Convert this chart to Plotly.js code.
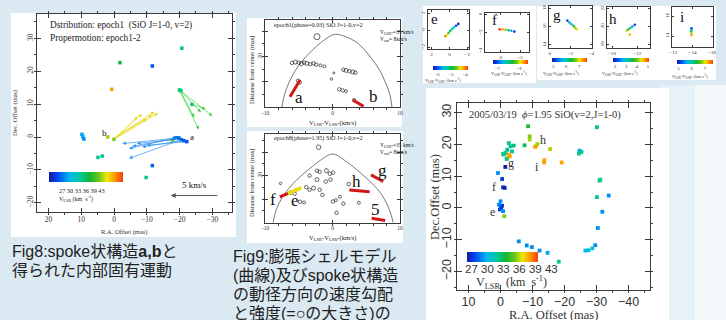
<!DOCTYPE html>
<html><head><meta charset="utf-8">
<script src="https://cdn.plot.ly/plotly-3.0.1.min.js"></script>
<style>html,body{margin:0;padding:0;background:#dbe9f3}</style>
</head><body><div id="chart" style="width:726px;height:320px"></div>
<script>
// ---------------- DATA ----------------
// Fig8 maser spots (R.A. offset, Dec offset, VLSR)
const fig8X = [-20.7, -1.8, -11.7, 0.7, -20.0, -20.4, -23.8, 9.5, 9.8, 9.2, 1.9, 0.0, -17.8, -18.4, -19.0, -19.8, -20.5, -21.2, -22.2, 4.9, 3.6, -11.7, -9.8];
const fig8Y = [27.0, 22.6, 21.6, 14.5, 14.3, 14.1, 9.9, 0.1, 0.8, -0.6, 0.0, -0.7, -0.9, -0.4, -0.2, -0.3, -0.8, -1.1, -1.4, -6.2, -5.8, -8.7, -12.3];
const fig8V = [34, 35.5, 29, 41, 34.5, 34.5, 34, 31, 31, 30.5, 38.5, 38, 37, 29.5, 30, 29.5, 29.5, 29, 29, 34, 34, 29.5, 34];
// Fig8 proper-motion arrows (tail -> head) per spoke group
const armGreenTX = [-20.0, -20.3, -19.8, -23.5, -20.1];
const armGreenTY = [14.3, 14.0, 14.5, 10.0, 14.2];
const armGreenHX = [-30.0, -26.5, -25.9, -28.0, -24.5];
const armGreenHY = [6.4, 7.5, 2.3, 8.5, 6.0];
const armYellowTX = [0.0, 0.3, -0.5, 0.2, -0.3, 0.1];
const armYellowTY = [-0.7, -0.5, 0.0, -0.9, -0.3, -0.6];
const armYellowHX = [-13.4, -12.4, -11.6, -7.2, -8.5, -10.0];
const armYellowHY = [7.2, 7.7, 6.8, 6.2, 7.0, 5.5];
const armBlueTX = [-18.4, -19.0, -19.8, -20.5, -21.2, -22.2, -19.5];
const armBlueTY = [-0.4, -0.2, -0.3, -0.8, -1.1, -1.4, -0.6];
const armBlueHX = [-2.6, -4.6, -5.6, -4.6, -8.6, -10.0, -7.0];
const armBlueHY = [-2.0, -3.5, -2.8, -6.5, -3.0, -2.5, -2.0];
const scaleArrow = {tailX: -32.0, headX: -17.3, y: -17.8, label: '5 km/s'};
const fig8Ticks = [27, 30, 33, 36, 39, 43];

// Fig9 expanding-shell model curves (velocity, distance)
const shell1V = [-7.5, -7.1, -6.4, -5.5, -4.4, -3.0, -1.6, 0.3, 2.0, 3.5, 4.8, 6.0, 7.0, 7.8, 8.5, 8.8];
const shell1R = [0, 5, 10, 14.5, 18.5, 22.5, 25.8, 28.8, 27.8, 25.8, 22.5, 18.5, 14.5, 10, 5, 0];
const shell8V = [-8.8, -8.4, -7.6, -6.5, -5.2, -3.6, -1.8, 0, 1.8, 3.6, 5.2, 6.6, 7.7, 8.5, 9.0];
const shell8R = [0, 5, 10, 14.5, 18.5, 22.5, 26.5, 29.2, 26.5, 22.5, 18.5, 14.5, 10, 5, 0];
// Fig9 spots (open circles)
const ep1CircV = [-2.3, -6.0, -5.5, -5.0, -4.6, -4.2, -3.8, -3.3, -2.8, -2.4, -1.8, -1.2, 1.6, 2.0, 2.5, 3.0, 3.4, -0.15, 1.0, 1.5, 2.0, -5.1, -4.8, 3.2, 0.2];
const ep1CircR = [27.9, 17.5, 17.8, 17.6, 17.2, 17.6, 17.3, 17.0, 17.3, 16.8, 16.5, 16.1, 14.8, 14.5, 14.2, 13.9, 13.6, 11.1, 7.0, 6.6, 6.3, 10.4, 9.7, 2.8, 13.5];
const ep1CircS = [6, 3.5, 4, 3.5, 4, 3.5, 4, 3.5, 3.5, 3.5, 3, 3, 3.5, 4, 3.5, 4, 3.5, 2.5, 3.5, 3.5, 3, 3.5, 3, 3, 2];
const ep8CircV = [-2.05, -2.3, -1.9, -0.9, 0.1, -0.4, -3.4, -2.3, -1.0, -0.3, -3.9, -2.8, -1.9, -3.4, -1.5, -4.8, -4.2, 0.05, 0.5, 1.6, 0.6, 3.9, 2.4, -7.7, -5.6, -6.2, 1.1];
const ep8CircR = [32.1, 22.1, 21.6, 22.1, 21.3, 20.8, 20.0, 18.3, 17.5, 18.3, 15.1, 14.7, 14.0, 14.0, 11.8, 8.9, 8.6, 9.0, 9.6, 8.1, 4.2, 8.5, 16.4, 16.7, 12.3, 12.8, 11.0];
const ep8CircS = [4.5, 3.5, 3.5, 4, 3.5, 3.5, 3.5, 4, 3.5, 3.5, 3.5, 4, 3.5, 3.5, 3.5, 3.5, 3, 3.5, 3, 3.5, 3.5, 3, 3.5, 2.5, 3.5, 3.5, 3];
// Fig9 spoke gradients (start/end)
const ep1SpokeNames = ['a', 'b'];
const ep1SpokeV = [[-6.3, -4.8], [3.0, 4.6]];
const ep1SpokeR = [[4.1, 10.7], [2.8, 0.3]];
const ep8SpokeNames = ['f', 'h', 'g', '5'];
const ep8SpokeV = [[-7.8, -4.8], [2.5, 5.5], [5.7, 7.5], [5.8, 7.8]];
const ep8SpokeR = [[11.0, 14.6], [13.9, 13.2], [20.3, 17.5], [1.9, 0.9]];
const ep8YellowV = [-6.6, -4.6];
const ep8YellowR = [12.4, 14.9];

// small spoke panels e-i (x, y, V - V*)
const eX = [0.45, 0.3, 0.1, -0.1, -0.3, -0.5, -0.75, -1.0];
const eY = [-0.7, -0.55, -0.3, -0.05, 0.15, 0.35, 0.55, 0.76];
const eV = [-4.0, -4.3, -4.8, -5.0, -5.3, -5.6, -6.0, -6.2];
const fX = [0.1, -0.2, -0.5, -0.8, -1.1, -1.4];
const fY = [-1.6, -1.6, -1.65, -1.7, -1.75, -1.85];
const fV = [-5.6, -5.8, -6.1, -6.4, -6.8, -7.1];
const gX = [-1.7, -1.9, -2.1, -2.3, -2.45, -2.6];
const gY = [16.65, 16.45, 16.25, 16.05, 15.85, 15.7];
const gV = [5.2, 5.5, 5.8, 6.3, 6.8, 7.1];
const hX = [-11.17, -11.3, -11.45, -11.6, -11.8, -11.4];
const hY = [19.55, 19.7, 19.85, 20.0, 20.2, 19.1];
const hV = [4.2, 3.8, 3.2, 2.6, 2.1, 4.6];
const iX = [-13.9, -13.9, -13.85, -13.9, -13.9];
const iY = [14.77, 14.6, 14.45, 14.3, 14.1];
const iV = [5.2, 5.7, 6.3, 6.9, 7.3];

// big panel 2005/03/19 spots
const bigX = [-8.6, -30.1, -9.1, -9.1, -7.5, -11.1, -11.5, -10.8, -15.5, -2.6, -3.1, -4.1, -2.1, -1.5, -1.0, -2.6, -2.9, -2.1, -1.9, -3.6, -0.8, -1.5, -13.7, -13.6, -19.1, -24.7, -25.3, -24.5, 0.8, -0.5, -0.8, -1.3, -30.9, -31.2, -33.8, -30.1, -31.8, -30.4, 0.0, 0.5, -0.5, -0.2, 0.2, -0.8, -1.2, -5.7, -8.2, -9.8, -12.2, -14.7, -18.2, -26.5, -27.5, -28.7, -29.6];
const bigY = [25.7, 25.4, 22.5, 21.5, 19.7, 19.5, 20.1, 19.2, 18.5, 20.4, 19.4, 19.6, 18.3, 17.3, 16.8, 16.8, 16.2, 15.7, 15.4, 17.8, 17.0, 12.9, 15.0, 14.3, 14.3, 18.0, 17.6, 17.1, 11.0, 9.1, 6.5, 6.3, 8.6, 8.9, 3.9, 3.4, -1.2, -6.3, 2.1, 1.0, 0.7, 0.0, -0.5, -1.0, -2.6, -10.5, -11.8, -12.3, -13.4, -14.1, -16.9, -13.4, -13.3, -12.7, -11.7];
const bigV = [36, 34, 38, 38.5, 35, 40, 38.5, 41, 38.5, 34, 34, 34.5, 34, 34, 34, 41, 41, 40.5, 34, 34, 34, 27, 41, 41, 41, 31, 34, 34, 30.5, 28, 27.5, 27.5, 34, 34, 30.5, 34, 30.5, 30.5, 30.5, 30.5, 28.5, 28, 28.5, 30.5, 38, 30.5, 30.5, 30.5, 30.5, 31, 34, 32, 32, 32, 30.5];
const bigLabels = ['h', 'g', 'i', 'f', 'e'];
const bigLabelX = [-13.4, -3.4, -11.5, 1.9, 2.6];
const bigLabelY = [21.3, 14.1, 12.8, 6.6, -1.3];
const bigTicksX = [10, 0, -10, -20, -30, -40];
const bigTicksY = [30, 20, 10, 0, -10, -20];

// ---------------- STYLE / LAYOUT ----------------
const W = 726, H = 320;
const px = x => x / W, py = y => 1 - y / H;
const JET = [[0, '#1a1a9a'], [0.1, '#0040f0'], [0.28, '#00b8f0'], [0.42, '#00c8a0'], [0.55, '#10b830'], [0.68, '#70c818'], [0.78, '#f0e800'], [0.9, '#ff9000'], [1, '#f83818']];
const SERIF = 'Liberation Serif, DejaVu Serif, serif';
const SANS = 'Liberation Sans, Arial, sans-serif';
const JP = 'Liberation Sans, Noto Sans CJK JP, sans-serif';

const layout = {
  width: W, height: H, margin: {l: 0, r: 0, t: 0, b: 0, autoexpand: false},
  paper_bgcolor: '#dbe9f3', plot_bgcolor: 'rgba(0,0,0,0)', showlegend: false,
  shapes: [], annotations: []
};
function rectPx(x0, y0, x1, y1, color) {
  layout.shapes.push({type: 'rect', xref: 'paper', yref: 'paper', x0: px(x0), x1: px(x1), y0: py(y1), y1: py(y0), fillcolor: color, line: {width: 0}, layer: 'below'});
}
rectPx(659, 85, 695, 320, '#e7f1f8');
rectPx(695, 85, 726, 320, '#f4f8fb');
rectPx(11, 13, 236, 237, '#ffffff');
rectPx(247, 18, 402, 127, '#ffffff');
rectPx(247, 131, 403, 243, '#ffffff');
rectPx(423, 6, 536, 83, '#ffffff');
rectPx(537, 6, 716, 80, '#ffffff');
rectPx(426, 88, 669, 320, '#ffffff');

function axPair(n, x0, x1, y0, y1, xr, yr, o) {
  const s = n === 1 ? '' : String(n);
  const base = {showline: true, mirror: 'ticks', linecolor: '#3a3a3a', linewidth: 1, ticks: 'inside', ticklen: o.tl || 3, tickcolor: '#3a3a3a', showgrid: false, zeroline: false, tickfont: {family: o.ff || SERIF, size: o.fs || 6, color: '#333'}, fixedrange: true};
  layout['xaxis' + s] = Object.assign({}, base, {domain: [px(x0), px(x1)], range: xr, anchor: 'y' + s, tickvals: o.xt, ticktext: o.xtt, tickangle: 0});
  layout['yaxis' + s] = Object.assign({}, base, {domain: [py(y1), py(y0)], range: yr, anchor: 'x' + s, tickvals: o.yt, ticktext: o.ytt, tickangle: -90});
  if (o.minor) { layout['xaxis' + s].minor = {dtick: o.minor[0], ticklen: 2, tickcolor: '#3a3a3a'}; layout['yaxis' + s].minor = {dtick: o.minor[1], ticklen: 2, tickcolor: '#3a3a3a'}; }
}
function note(text, x, y, o) {
  layout.annotations.push(Object.assign({text: text, x: px(x), y: py(y), xref: 'paper', yref: 'paper', showarrow: false, xanchor: 'left', yanchor: 'middle', font: {family: SERIF, size: 8, color: '#222'}}, o || {}));
}
function dnote(text, x, y, ax, o) {
  layout.annotations.push(Object.assign({text: text, x: x, y: y, xref: 'x' + ax, yref: 'y' + ax, showarrow: false, font: {family: SERIF, size: 14, color: '#111'}}, o || {}));
}
function cbar(x0, x1, y0, y1, tickvals, fs, ff, showLabels) {
  return {orientation: 'h', x: px(x0), xanchor: 'left', y: py(y0), yanchor: 'top', len: x1 - x0, lenmode: 'pixels', thickness: y1 - y0, thicknessmode: 'pixels', outlinewidth: 0, ticks: '', tickvals: tickvals, showticklabels: showLabels !== false, tickangle: 0, tickfont: {family: ff || SERIF, size: fs, color: '#222'}, xpad: 0, ypad: 0, ticklabelstandoff: 0};
}

const traces = [];
// ---- Fig8 ----
axPair(1, 37, 232, 14, 212, [23.5, -36], [-22.8, 37.4], {xt: [20, 10, 0, -10, -20, -30], yt: [30, 20, 10, 0, -10, -20], fs: 7.5, tl: 4, minor: [5, 5]});
traces.push({type: 'scatter', mode: 'markers', x: fig8X, y: fig8Y, xaxis: 'x', yaxis: 'y',
  marker: {size: 3.5, symbol: 'square', color: fig8V, colorscale: JET, cmin: 27, cmax: 43, showscale: true, colorbar: cbar(49, 123, 172, 182, fig8Ticks, 6, SERIF, false)}});
function arrows(tx, ty, hx, hy, color) {
  for (let i = 0; i < tx.length; i++) layout.annotations.push({x: hx[i], y: hy[i], ax: tx[i], ay: ty[i], xref: 'x', yref: 'y', axref: 'x', ayref: 'y', text: '', showarrow: true, arrowhead: 2, arrowsize: 1, arrowwidth: 0.7, arrowcolor: color});
}
arrows(armGreenTX, armGreenTY, armGreenHX, armGreenHY, '#40d040');
arrows(armYellowTX, armYellowTY, armYellowHX, armYellowHY, '#e8d820');
arrows(armBlueTX, armBlueTY, armBlueHX, armBlueHY, '#3090f0');
layout.annotations.push({x: scaleArrow.headX, y: scaleArrow.y, ax: scaleArrow.tailX, ay: scaleArrow.y, xref: 'x', yref: 'y', axref: 'x', ayref: 'y', text: '', showarrow: true, arrowhead: 2, arrowsize: 1, arrowwidth: 1, arrowcolor: '#555'});
dnote(scaleArrow.label, -24.6, -14.6, '', {font: {family: SERIF, size: 9, color: '#111'}});
dnote('a', -23.8, 0.1, '', {font: {family: SERIF, size: 9, color: '#111'}});
dnote('b', 3.0, 1.2, '', {font: {family: SERIF, size: 9, color: '#111'}});
note('Dstribution: epoch1  (SiO J=1-0, v=2)', 48, 25, {font: {family: SERIF, size: 9.3, color: '#222'}});
note('Propermotion: epoch1-2', 48, 38, {font: {family: SERIF, size: 9.3, color: '#222'}});
note(fig8Ticks.join(' '), 57, 190, {font: {family: SERIF, size: 6.3, color: '#222'}});
note('V<sub>LSR</sub> (km  s<sup>-1</sup>)', 57, 198, {font: {family: SERIF, size: 6, color: '#222'}});
note('R.A. Offset (mas)', 124, 232, {xanchor: 'center', font: {family: SERIF, size: 6.5, color: '#333'}});
note('Dec. Offset (mas)', 15, 113, {xanchor: 'center', textangle: -90, font: {family: SERIF, size: 6.5, color: '#333'}});
note('Fig8:spoke状構造<b>a,b</b>と', 10, 251, {font: {family: JP, size: 16, color: '#222'}});
note('得られた内部固有運動', 10, 270, {font: {family: JP, size: 16, color: '#222'}});

// ---- Fig9 top ----
axPair(2, 265, 400, 20, 107, [-10, 10], [0, 34.5], {xt: [-10, 0, 10], yt: [10, 20, 30], ytt: ['', '20', ''], fs: 5.5, tl: 3, minor: [2, 5]});
traces.push({type: 'scatter', mode: 'lines', x: shell1V, y: shell1R, xaxis: 'x2', yaxis: 'y2', line: {color: '#555', width: 0.8, shape: 'spline'}});
traces.push({type: 'scatter', mode: 'markers', x: ep1CircV, y: ep1CircR, xaxis: 'x2', yaxis: 'y2', marker: {symbol: 'circle-open', size: ep1CircS, color: '#111', line: {width: 0.9}}});
ep1SpokeV.forEach((v, i) => traces.push({type: 'scatter', mode: 'lines', x: v, y: ep1SpokeR[i], xaxis: 'x2', yaxis: 'y2', line: {color: '#d01818', width: 3}}));
dnote('a', -5.0, 3.6, '2', {font: {family: SERIF, size: 17, color: '#111'}});
dnote('b', 6.0, 4.3, '2', {font: {family: SERIF, size: 17, color: '#111'}});
note('epoch1(phase=0.93) SiO J=1-0,v=2', 272, 25, {font: {family: SERIF, size: 6.2, color: '#222'}});
note('V<sub>LSR*</sub>=35 km/s<br>V<sub>out</sub>= 8km/s', 378, 36, {font: {family: SERIF, size: 5.5, color: '#222'}, align: 'left'});
note('V<sub>LSR</sub>-V<sub>LSR*</sub>(km/s)', 333, 123, {xanchor: 'center', font: {family: SERIF, size: 6.5, color: '#222'}});
note('Distanse from center (mas)', 252, 70, {xanchor: 'center', textangle: -90, font: {family: SERIF, size: 6.3, color: '#222'}});

// ---- Fig9 bottom ----
axPair(3, 265, 400, 134, 222.7, [-10, 10], [0, 37.7], {xt: [-10, 0, 10], yt: [10, 20, 30], ytt: ['', '20', ''], fs: 5.5, tl: 3, minor: [2, 5]});
traces.push({type: 'scatter', mode: 'lines', x: shell8V, y: shell8R, xaxis: 'x3', yaxis: 'y3', line: {color: '#555', width: 0.8, shape: 'spline'}});
traces.push({type: 'scatter', mode: 'markers', x: ep8CircV, y: ep8CircR, xaxis: 'x3', yaxis: 'y3', marker: {symbol: 'circle-open', size: ep8CircS, color: '#111', line: {width: 0.9}}});
ep8SpokeV.forEach((v, i) => traces.push({type: 'scatter', mode: 'lines', x: v, y: ep8SpokeR[i], xaxis: 'x3', yaxis: 'y3', line: {color: '#d01818', width: 3}}));
traces.push({type: 'scatter', mode: 'lines', x: ep8YellowV, y: ep8YellowR, xaxis: 'x3', yaxis: 'y3', line: {color: '#e8e010', width: 3.5}});
dnote('f', -8.8, 10.0, '3', {font: {family: SERIF, size: 17, color: '#111'}});
dnote('e', -5.6, 9.5, '3', {font: {family: SERIF, size: 17, color: '#111'}});
dnote('g', 7.4, 22.3, '3', {font: {family: SERIF, size: 17, color: '#111'}});
dnote('h', 3.6, 17.5, '3', {font: {family: SERIF, size: 17, color: '#111'}});
dnote('5', 6.3, 5.4, '3', {font: {family: SERIF, size: 17, color: '#111'}});
note('epoch8(phase=1.95) SiO J=1-0,v=2', 272, 138, {font: {family: SERIF, size: 6.2, color: '#222'}});
note('V<sub>LSR*</sub>=35 km/s<br>V<sub>out</sub>= 8km/s', 378, 149, {font: {family: SERIF, size: 5.5, color: '#222'}, align: 'left'});
note('V<sub>LSR</sub>-V<sub>LSR*</sub>(km/s)', 333, 238, {xanchor: 'center', font: {family: SERIF, size: 6.5, color: '#222'}});
note('Distanse from center (mas)', 252, 183, {xanchor: 'center', textangle: -90, font: {family: SERIF, size: 6.3, color: '#222'}});
['Fig9:膨張シェルモデル', '(曲線)及びspoke状構造', 'の動径方向の速度勾配', 'と強度(=○の大きさ)の'].forEach((t, i) => note(t, 231, 256 + i * 19, {font: {family: JP, size: 16, color: '#222'}}));

// ---- small panels e-i ----
const small = [
  {n: 4, box: [428, 469, 10, 49], xr: [2.4, -2.2], yr: [-2.2, 2.4], xt: [2, 0, -2], yt: [-2, 0, 2], X: eX, Y: eY, V: eV, cmin: -6.3, cmax: -3.8, cb: [433, 468, 66, 70], cbt: [-6, -5, -4], lab: 'e', lx: 1.7, ly: 1.35, tx: 423, ty: 80},
  {n: 5, box: [485, 529, 13, 52], xr: [1.6, -2.9], yr: [-4.1, 0.2], xt: [0, -2], yt: [-4, -2, 0], X: fX, Y: fY, V: fV, cmin: -7.2, cmax: -5.6, cb: [493, 528, 60, 64], cbt: [-7, -6], lab: 'f', lx: 0.6, ly: -0.6, tx: 489, ty: 74},
  {n: 6, box: [549, 592, 6, 48], xr: [0.07, -4.07], yr: [13.65, 18.25], xt: [0, -2, -4], yt: [14, 16, 18], X: gX, Y: gY, V: gV, cmin: 4.9, cmax: 7.6, cb: [552, 587, 58, 62], cbt: [5, 6, 7], lab: 'g', lx: -0.7, ly: 17.3, tx: 541, ty: 73},
  {n: 7, box: [607, 650, 7, 48], xr: [-9.6, -13.0], yr: [17.6, 22.2], xt: [-10, -12], yt: [18, 20, 22], X: hX, Y: hY, V: hV, cmin: 1.8, cmax: 5.1, cb: [613, 649, 58, 62], cbt: [2, 3, 4, 5], lab: 'h', lx: -10.1, ly: 20.8, tx: 600, ty: 73},
  {n: 8, box: [672, 713, 7, 47], xr: [-11.9, -16.1], yr: [12.9, 16.9], xt: [-12, -14, -16], yt: [14, 16], X: iX, Y: iY, V: iV, cmin: 4.9, cmax: 7.6, cb: [677, 713, 60, 64], cbt: [5, 6, 7], lab: 'i', lx: -12.9, ly: 15.9, tx: 670, ty: 76}
];
small.forEach(p => {
  axPair(p.n, p.box[0], p.box[1], p.box[2], p.box[3], p.xr, p.yr, {xt: p.xt, yt: p.yt, fs: 5, tl: 2});
  traces.push({type: 'scatter', mode: 'markers', x: p.X, y: p.Y, xaxis: 'x' + p.n, yaxis: 'y' + p.n,
    marker: {size: 2.6, color: p.V, colorscale: JET, cmin: p.cmin, cmax: p.cmax, showscale: true, colorbar: cbar(p.cb[0], p.cb[1], p.cb[2], p.cb[3], p.cbt, 4.6)}});
  dnote(p.lab, p.lx, p.ly, String(p.n), {font: {family: SERIF, size: 15, color: '#111'}});
  note('V<sub>LSR</sub>-V<sub>LSR*</sub> (km s<sup>-1</sup>)', p.tx, p.ty, {font: {family: SERIF, size: 4.4, color: '#333'}});
});

// ---- big panel ----
axPair(9, 457, 650, 103, 290, [13.6, -46.7], [-25.8, 33], {xt: bigTicksX, yt: bigTicksY, fs: 12.5, ff: SANS, tl: 5, minor: [5, 5]});
traces.push({type: 'scatter', mode: 'markers', x: bigX, y: bigY, xaxis: 'x9', yaxis: 'y9',
  marker: {size: 3.8, symbol: 'square', color: bigV, colorscale: JET, cmin: 27, cmax: 43, showscale: true, colorbar: cbar(467, 538, 252, 262, fig8Ticks, 11.5, SANS, false)}});
bigLabels.forEach((t, i) => dnote(t, bigLabelX[i], bigLabelY[i], '9', {font: {family: SERIF, size: 12, color: '#333'}}));
note('2005/03/19  <i>ϕ</i>=1.95 SiO(v=2,J=1-0)', 467, 115, {font: {family: SERIF, size: 10.5, color: '#333'}});
note(fig8Ticks.join(' '), 463, 269, {font: {family: SANS, size: 11.5, color: '#333'}});
note('V<sub>LSR</sub>  (km  s<sup>-1</sup>)', 474, 282, {font: {family: SERIF, size: 12, color: '#333'}});
note('R.A. Offset (mas)', 553, 315, {xanchor: 'center', font: {family: SERIF, size: 12.5, color: '#333'}});
note('Dec.Offset (mas)', 435, 197, {xanchor: 'center', textangle: -90, font: {family: SERIF, size: 12.5, color: '#333'}});

Plotly.newPlot('chart', traces, layout, {staticPlot: true, displayModeBar: false});
</script></body></html>
